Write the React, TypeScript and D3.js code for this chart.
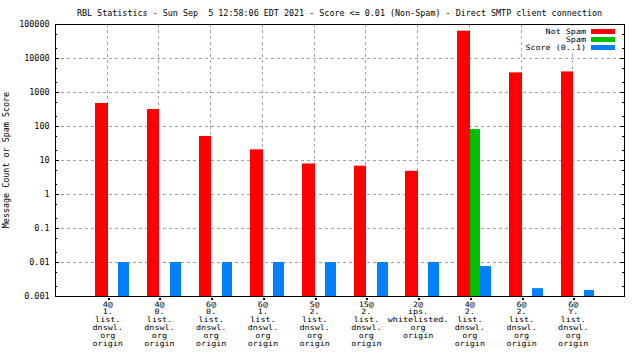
import React, { useEffect, useRef } from 'react';
import * as d3 from 'd3';

// values
const notSpam = [475, 316, 51, 20.6, 7.9, 6.8, 4.8, 63600, 3770, 4035];
const spam = [0, 0, 0, 0, 0, 0, 0, 82, 0, 0];
const score = [0.01, 0.01, 0.01, 0.01, 0.01, 0.01, 0.01, 0.0076, 0.0017, 0.0015];

const categoryLabels = [
  ['4@', '1.', 'list.', 'dnswl.', 'org', 'origin'],
  ['4@', '0.', 'list.', 'dnswl.', 'org', 'origin'],
  ['6@', '0.', 'list.', 'dnswl.', 'org', 'origin'],
  ['6@', '1.', 'list.', 'dnswl.', 'org', 'origin'],
  ['5@', '2.', 'list.', 'dnswl.', 'org', 'origin'],
  ['15@', '2.', 'list.', 'dnswl.', 'org', 'origin'],
  ['2@', 'ips.', 'whitelisted.', 'org', 'origin'],
  ['4@', '2.', 'list.', 'dnswl.', 'org', 'origin'],
  ['6@', '2.', 'list.', 'dnswl.', 'org', 'origin'],
  ['6@', 'Y.', 'list.', 'dnswl.', 'org', 'origin'],
];

const yTicks = [0.001, 0.01, 0.1, 1, 10, 100, 1000, 10000, 100000];
const yTickLabels = ['0.001', '0.01', '0.1', '1', '10', '100', '1000', '10000', '100000'];

const legendItems = [
  { label: 'Not Spam', color: '#ff0000' },
  { label: 'Spam', color: '#00c000' },
  { label: 'Score (0..1)', color: '#0080ff' },
];

const title = 'RBL Statistics - Sun Sep  5 12:58:06 EDT 2021 - Score <= 0.01 (Non-Spam) - Direct SMTP client connection';

const FONT = '"DejaVu Sans Mono", monospace';
const CHAR_W = 5.05;

const App: React.FC = () => {
  const svgRef = useRef<SVGSVGElement>(null);

  useEffect(() => {
    if (!svgRef.current) return;
    const svg = d3.select(svgRef.current);
    svg.selectAll('*').remove();

    const left = 55, right = 624, top = 24, bottom = 296;
    const x = d3.scaleLinear().domain([-1, 10]).range([left, right]);
    const y = d3.scaleLog().domain([0.001, 100000]).range([bottom, top]);

    const mono = (sel, str, size = 8.2) =>
      sel
        .attr('font-family', FONT)
        .attr('font-size', `${size}px`)
        .attr('fill', '#000')
        .attr('xml:space', 'preserve')
        .attr('textLength', str.length * CHAR_W)
        .attr('lengthAdjust', 'spacingAndGlyphs')
        .text(str);

    svg.append('rect').attr('width', 640).attr('height', 360).attr('fill', '#fff');

    // grid
    const grid = svg.append('g').attr('stroke', '#a0a0a0').attr('stroke-dasharray', '3,3');
    yTicks.slice(1, -1).forEach(t => {
      grid.append('line')
        .attr('x1', left).attr('x2', right)
        .attr('y1', Math.round(y(t)) + 0.5).attr('y2', Math.round(y(t)) + 0.5);
    });
    d3.range(10).forEach(i => {
      grid.append('line')
        .attr('x1', Math.round(x(i)) + 0.5).attr('x2', Math.round(x(i)) + 0.5)
        .attr('y1', top).attr('y2', bottom);
    });

    // bars
    const base = y(0.001);
    const bars = svg.append('g');
    const drawBar = (vals, x0, x1, color) => {
      vals.forEach((v, i) => {
        if (!v) return;
        const xa = Math.round(x(i + x0)) + (x0 >= 0 ? 1 : 0);
        const xb = Math.round(x(i + x1)) + 1;
        bars.append('rect')
          .attr('x', xa)
          .attr('width', xb - xa)
          .attr('y', y(v))
          .attr('height', base - y(v))
          .attr('fill', color);
      });
    };
    drawBar(notSpam, -0.225, 0, '#ff0000');
    drawBar(spam, 0, 0.2, '#00c000');
    drawBar(score, 0.2, 0.41, '#0080ff');

    // border
    svg.append('rect')
      .attr('x', left + 0.5).attr('y', top + 0.5)
      .attr('width', right - left).attr('height', bottom - top)
      .attr('fill', 'none').attr('stroke', '#000').attr('stroke-width', 1);

    // y ticks
    const ticks = svg.append('g').attr('stroke', '#000');
    yTicks.forEach(t => {
      const yy = Math.round(y(t)) + 0.5;
      ticks.append('line').attr('x1', left).attr('x2', left + 4).attr('y1', yy).attr('y2', yy);
      ticks.append('line').attr('x1', right - 4).attr('x2', right).attr('y1', yy).attr('y2', yy);
    });
    yTicks.slice(0, -1).forEach(t => {
      [2, 5].forEach(m => {
        const yy = Math.round(y(t * m)) + 0.5;
        ticks.append('line').attr('x1', left).attr('x2', left + 2).attr('y1', yy).attr('y2', yy);
        ticks.append('line').attr('x1', right - 2).attr('x2', right).attr('y1', yy).attr('y2', yy);
      });
    });
    d3.range(10).forEach(i => {
      svg.append('rect')
        .attr('x', Math.round(x(i)) + 1).attr('y', 298)
        .attr('width', 2).attr('height', 2).attr('fill', '#000');
    });

    yTicks.forEach((t, i) => {
      const label = yTickLabels[i];
      mono(svg.append('text')
        .attr('x', 49.5 - label.length * CHAR_W)
        .attr('y', y(t) + 3), label);
    });

    // x labels
    categoryLabels.forEach((lines, i) => {
      lines.forEach((line, k) => {
        mono(svg.append('text')
          .attr('x', x(i) + 1 - (line.length * CHAR_W) / 2)
          .attr('y', 306.5 + k * 7.9), line, 7.4);
      });
    });

    // title
    mono(svg.append('text')
      .attr('x', 339.5 - (title.length * CHAR_W) / 2)
      .attr('y', 16), title);

    // y axis label
    const yl = 'Message Count or Spam Score';
    mono(svg.append('text')
      .attr('transform', `translate(9, ${160 + (yl.length * CHAR_W) / 2}) rotate(-90)`), yl);

    // legend
    svg.append('rect').attr('x', 524).attr('y', 26).attr('width', 95).attr('height', 25).attr('fill', '#fff');
    legendItems.forEach((item, i) => {
      const cy = 31 + i * 7.9;
      mono(svg.append('text')
        .attr('x', 586 - item.label.length * CHAR_W)
        .attr('y', cy + 3), item.label, 7.4);
      svg.append('rect')
        .attr('x', 591).attr('y', Math.round(cy - 2))
        .attr('width', 24).attr('height', 5)
        .attr('fill', item.color);
    });
  }, []);

  return (
    <svg
      ref={svgRef}
      width={640}
      height={360}
      style={{ position: 'absolute', left: 0, top: 0 }}
    />
  );
};

export default App;
